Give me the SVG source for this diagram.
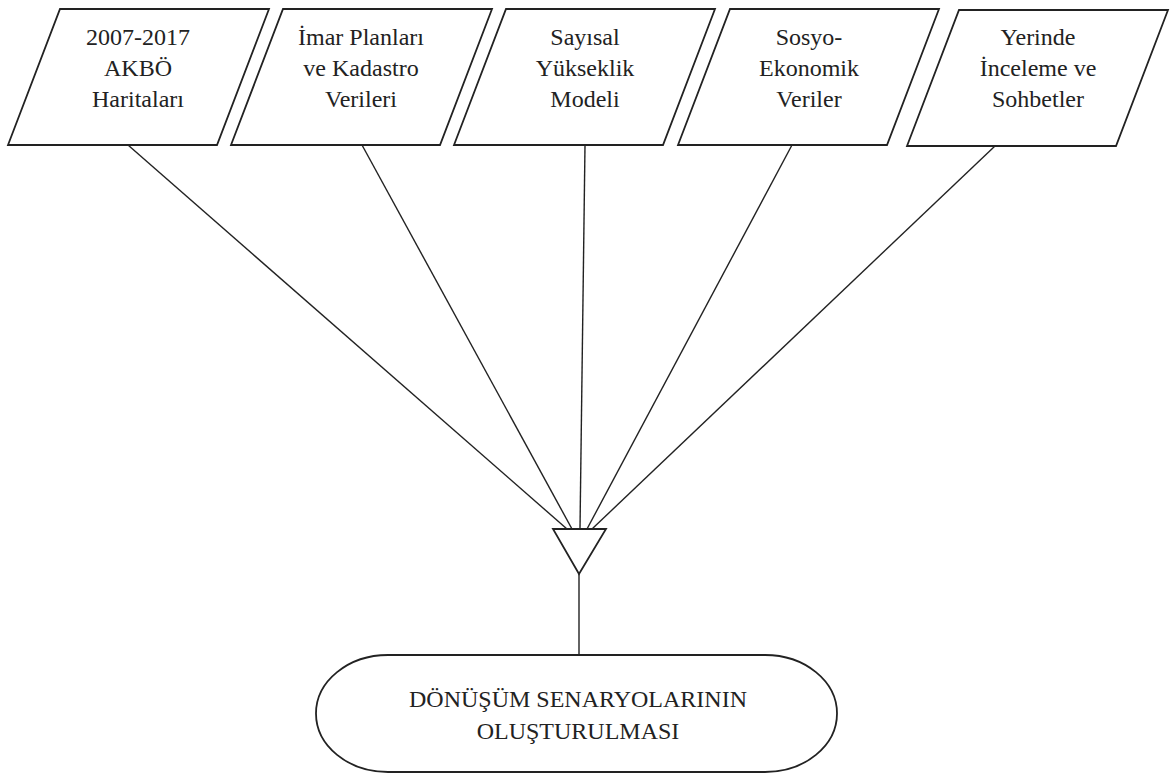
<svg xmlns="http://www.w3.org/2000/svg" width="1170" height="774" viewBox="0 0 1170 774">
<style>
.shape{fill:#ffffff;stroke:#222222;stroke-width:1.8}
.conn{fill:none;stroke:#222222;stroke-width:1.4}
.lbl{font-family:"Liberation Serif","Times New Roman",serif;font-size:24px;fill:#222222;text-anchor:middle}
</style>
<rect x="0" y="0" width="1170" height="774" fill="#ffffff"/>
<g id="connectors">
<line class="conn" x1="128" y1="145" x2="567" y2="529"/>
<line class="conn" x1="362" y1="145" x2="572" y2="529"/>
<line class="conn" x1="585" y1="145" x2="580" y2="529"/>
<line class="conn" x1="792" y1="145" x2="587" y2="529"/>
<line class="conn" x1="995" y1="146" x2="592" y2="529"/>
<line class="conn" x1="579" y1="574" x2="579" y2="655"/>
</g>
<g id="n1">
<polygon class="shape" points="60,9 269,9 217,145 8,145"/>
<text class="lbl" x="138" y="45">2007-2017</text>
<text class="lbl" x="138" y="76">AKBÖ</text>
<text class="lbl" x="138" y="107">Haritaları</text>
</g>
<g id="n2">
<polygon class="shape" points="283,9 492,9 440,145 231,145"/>
<text class="lbl" x="361" y="45">İmar Planları</text>
<text class="lbl" x="361" y="76">ve Kadastro</text>
<text class="lbl" x="361" y="107">Verileri</text>
</g>
<g id="n3">
<polygon class="shape" points="506,9 715,9 663,145 454,145"/>
<text class="lbl" x="585" y="45">Sayısal</text>
<text class="lbl" x="585" y="76">Yükseklik</text>
<text class="lbl" x="585" y="107">Modeli</text>
</g>
<g id="n4">
<polygon class="shape" points="730,9 939,9 887,145 678,145"/>
<text class="lbl" x="809" y="45">Sosyo-</text>
<text class="lbl" x="809" y="76">Ekonomik</text>
<text class="lbl" x="809" y="107">Veriler</text>
</g>
<g id="n5">
<polygon class="shape" points="959,10 1168,10 1116,146 907,146"/>
<text class="lbl" x="1038" y="45">Yerinde</text>
<text class="lbl" x="1038" y="76">İnceleme ve</text>
<text class="lbl" x="1038" y="107">Sohbetler</text>
</g>
<g id="merge">
<polygon class="shape" points="553,529 606,529 579,574"/>
</g>
<g id="terminal">
<rect class="shape" x="316" y="655" width="521" height="117" rx="72" ry="58.5"/>
<text class="lbl" x="578" y="707">DÖNÜŞÜM SENARYOLARININ</text>
<text class="lbl" x="578" y="739">OLUŞTURULMASI</text>
</g>
</svg>
